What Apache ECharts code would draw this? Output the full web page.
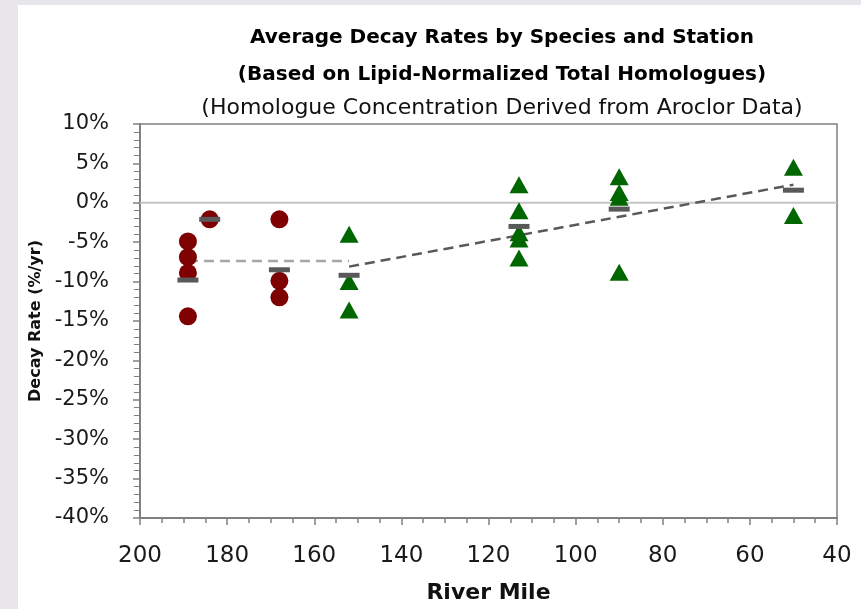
<!DOCTYPE html>
<html>
<head>
<meta charset="utf-8">
<style>
  body { margin: 0; padding: 0; background: #ffffff; }
  #chart { width: 861px; height: 609px; }
</style>
<script src="https://cdn.jsdelivr.net/npm/echarts@6/dist/echarts.min.js"></script>
</head>
<body>
<div id="chart"></div>
<script>
// fish samples, river mile vs decay rate (%/yr)
var upperMiles = [189, 189, 189, 189, 184, 168, 168, 168];
var upperRates = [-4.9, -6.9, -8.9, -14.4, -2.1, -2.1, -9.9, -12.0];

var lowerMiles = [152, 152, 152, 113, 113, 113, 113, 113, 90, 90, 90, 90, 50, 50];
var lowerRates = [-4.0, -10.0, -13.6, 2.3, -1.0, -3.8, -4.6, -7.0, 3.3, 1.3, 0.7, -8.8, 4.5, -1.6];

// station averages
var meanMiles = [189, 184, 168, 152, 113, 90, 50];
var meanRates = [-9.8, -2.1, -8.5, -9.2, -3.0, -0.8, 1.6];

// fitted trend: flat upstream, then rising downstream
var flatMiles = [189, 152];
var flatRates = [-7.4, -7.4];
var trendMiles = [152, 50];
var trendRates = [-8.1, 2.3];

var zeroMiles = [200, 40];
var zeroRates = [0, 0];

var yTicks = { min: -40, max: 10, step: 5 };
var xTicks = { min: 40, max: 200, step: 20 };

function pairs(xs, ys) {
    return xs.map(function (x, i) { return [x, ys[i]]; });
}

var font = '"DejaVu Sans", sans-serif';
var axisGray = '#808080';

var myChart = echarts.init(document.getElementById('chart'));
myChart.setOption({
    backgroundColor: '#ffffff',
    animation: false,
    graphic: [
        { type: 'rect', shape: { x: 0, y: 0, width: 18, height: 609 }, style: { fill: '#e8e6eb' }, silent: true },
        { type: 'rect', shape: { x: 0, y: 0, width: 861, height: 5 }, style: { fill: '#e8e6eb' }, silent: true }
    ],
    title: [{
        text: 'Average Decay Rates by Species and Station\n(Based on Lipid-Normalized Total Homologues)',
        left: 497, top: 14, textAlign: 'center',
        textStyle: { fontFamily: font, fontWeight: 'bold', fontSize: 20, lineHeight: 37, color: '#000' }
    }, {
        text: '(Homologue Concentration Derived from Aroclor Data)',
        left: 497, top: 92, textAlign: 'center',
        textStyle: { fontFamily: font, fontWeight: 'normal', fontSize: 22, color: '#111' }
    }],
    grid: { left: 140, right: 24, top: 124, bottom: 87, show: true, borderColor: axisGray, borderWidth: 1.5, backgroundColor: '#fff' },
    xAxis: {
        type: 'value', inverse: true,
        min: xTicks.min, max: xTicks.max, interval: xTicks.step,
        name: 'River Mile', nameLocation: 'middle', nameGap: 64,
        nameTextStyle: { fontFamily: font, fontWeight: 'bold', fontSize: 22, color: '#111' },
        axisLine: { onZero: false, lineStyle: { color: axisGray, width: 2 } },
        axisTick: { length: 7, lineStyle: { color: axisGray, width: 1.5 } },
        minorTick: { show: true, splitNumber: 4, length: 5, lineStyle: { color: axisGray, width: 1.5 } },
        splitLine: { show: false },
        axisLabel: { margin: 27, fontFamily: font, fontSize: 23, color: '#1a1a1a' }
    },
    yAxis: {
        type: 'value',
        min: yTicks.min, max: yTicks.max, interval: yTicks.step,
        name: 'Decay Rate (%/yr)', nameLocation: 'middle', nameGap: 94,
        nameTextStyle: { fontFamily: font, fontWeight: 'bold', fontSize: 16, color: '#111' },
        axisLine: { onZero: false, lineStyle: { color: axisGray, width: 2 } },
        axisTick: { length: 7, lineStyle: { color: axisGray, width: 1.5 } },
        minorTick: { show: true, splitNumber: 5, length: 6, lineStyle: { color: axisGray, width: 1 } },
        splitLine: { show: false },
        axisLabel: { margin: 31, fontFamily: font, fontSize: 21, color: '#1a1a1a', formatter: '{value}%' }
    },
    series: [{
        type: 'line', data: pairs(zeroMiles, zeroRates), symbol: 'none', silent: true,
        lineStyle: { color: '#c4c4c4', width: 2 }, z: 1
    }, {
        type: 'line', data: pairs(flatMiles, flatRates), symbol: 'none', silent: true,
        lineStyle: { color: '#a6a6a6', width: 2.5, type: [10, 6] }, z: 2
    }, {
        type: 'line', data: pairs(trendMiles, trendRates), symbol: 'none', silent: true,
        lineStyle: { color: '#595959', width: 2.5, type: [10, 6] }, z: 2
    }, {
        type: 'scatter', data: pairs(upperMiles, upperRates),
        symbol: 'circle', symbolSize: 18,
        itemStyle: { color: '#7f0000', opacity: 1 }, z: 3
    }, {
        type: 'scatter', data: pairs(lowerMiles, lowerRates),
        symbol: 'triangle', symbolSize: [19, 17],
        itemStyle: { color: '#006600', opacity: 1 }, z: 3
    }, {
        type: 'scatter', data: pairs(meanMiles, meanRates),
        symbol: 'rect', symbolSize: [21, 5],
        itemStyle: { color: '#595959', opacity: 1 }, z: 4
    }]
});
</script>
</body>
</html>
